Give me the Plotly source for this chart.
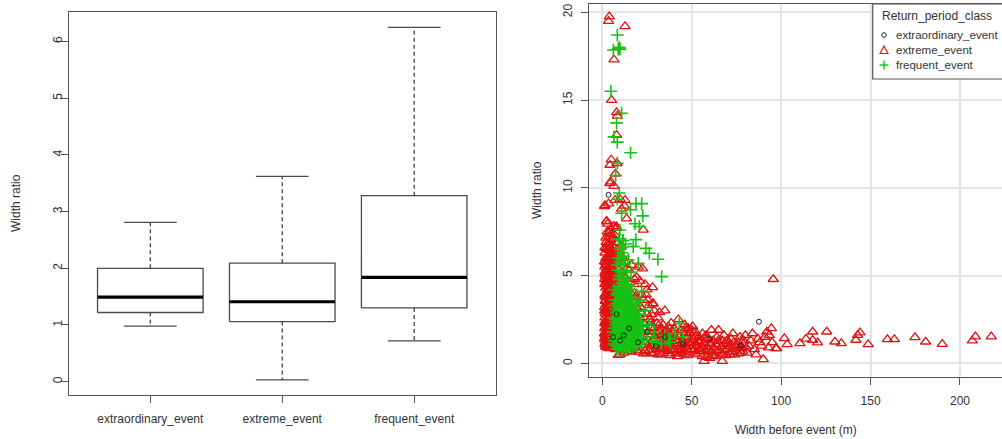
import plotly.graph_objects as go

# ---------------- Box plot summary (left panel) ----------------
categories = ["extraordinary_event", "extreme_event", "frequent_event"]
box_lower = [0.98, 0.03, 0.72]
box_q1 = [1.22, 1.06, 1.30]
box_median = [1.49, 1.41, 1.84]
box_q3 = [2.00, 2.09, 3.28]
box_upper = [2.81, 3.62, 6.25]
box_ticks = [0, 1, 2, 3, 4, 5, 6]

# ---------------- Scatter data (right panel) ----------------
extreme_width = [
    3.9, 3.5, 12.7, 6.5, 5.2, 8.0, 8.4, 8.0, 8.2, 5.0,
    4.3, 7.3, 4.7, 6.5, 1.3, 3.5, 9.9, 12.7, 2.4, 3.0,
    7.8, 13.6, 22.9, 28.1, 95.6, 12.3, 10.8, 2.5, 4.3, 1.5,
    7.1, 6.2, 8.0, 3.4, 6.2, 3.4, 20.1, 19.2, 1.5, 2.2,
    3.0, 4.2, 5.0, 2.0, 1.2, 3.3, 4.6, 6.0, 7.2, 8.5,
    10.5, 11.5, 13.0, 15.0, 16.5, 12.3, 17.8, 22.5, 21.0, 24.0,
    14.0, 18.5,
    1.5, 2.3, 3.1, 3.8, 4.6, 2.0, 2.8, 3.5, 4.2, 5.3,
    1.6, 2.4, 3.2, 3.9, 4.7, 1.9, 2.7, 3.6, 4.4, 5.5,
    1.4, 2.2, 3.0, 3.7, 4.5, 1.8, 2.6, 3.4, 4.1, 5.2,
    1.5, 2.3, 3.1, 3.9, 4.8, 1.7, 2.9, 3.5, 4.3, 5.6,
    1.3, 2.1, 2.8, 3.6, 4.4, 1.9, 3.2, 4.0, 5.1, 6.0,
    1.6, 2.4, 3.3, 4.1, 4.9, 2.0, 2.9, 3.7, 5.4, 6.3,
    1.4, 2.2, 3.0, 3.8, 4.6, 1.9, 2.7, 3.5, 5.0, 6.1,
    1.5, 2.5, 3.3, 4.2, 5.2, 2.0, 2.9, 4.7, 5.8, 6.6,
    2.5, 3.3, 4.0, 1.8, 4.9, 5.9, 6.5, 7.0, 7.5, 1.2,
    6.8, 7.5, 8.3, 9.2, 10.1, 7.0, 8.8, 9.6, 11.0, 12.0,
    16.0, 18.0, 20.0, 22.0, 24.0, 26.0, 28.0, 30.0, 19.0, 21.0,
    23.0, 25.0, 27.0, 29.0, 31.0, 17.0, 20.0, 23.0, 26.0, 29.0,
    32.0, 34.0, 35.0, 33.0, 36.0, 22.0, 25.0, 18.0, 15.0, 14.0,
    24.0, 27.0, 19.0, 23.0, 30.0, 12.0, 10.0, 15.0, 8.9, 11.0,
    31.0, 33.0, 35.0, 37.0, 39.0, 41.0, 43.0, 45.0, 47.0, 49.0,
    32.0, 34.0, 36.0, 38.0, 40.0, 42.0, 44.0, 46.0, 48.0, 50.0,
    51.0, 53.0, 55.0, 57.0, 59.0, 52.0, 54.0, 56.0, 58.0, 60.0,
    30.0, 38.0, 40.0, 44.0, 46.0, 48.0, 50.0, 37.0, 42.0, 52.0,
    55.0, 57.0, 53.0, 49.0, 45.0, 41.0, 39.0, 35.0, 33.0, 47.0,
    61.0, 62.0, 58.0, 56.0, 54.0, 43.0, 34.0, 36.0, 44.0, 51.0,
    62.0, 64.0, 66.0, 68.0, 70.0, 72.0, 74.0, 76.0, 78.0, 80.0,
    63.0, 65.0, 67.0, 69.0, 71.0, 73.0, 75.0, 77.0, 79.0, 81.0,
    83.0, 85.0, 87.0, 89.0, 91.0, 93.0, 95.0, 97.0, 92.0, 90.0,
    56.9, 67.1, 84.0, 82.0, 86.0, 94.5, 93.4, 97.5, 88.0, 60.0,
    70.0, 73.0, 76.0, 79.0, 68.0, 64.0, 61.0, 59.0, 71.0, 65.0,
    24.8, 21.5, 26.5, 28.5, 17.5, 13.5, 38.5, 42.5, 46.5, 50.5,
    101.8, 103.4, 110.5, 113.9, 117.6, 117.6, 120.4, 125.5, 130.1, 133.6,
    141.8, 142.8, 144.1, 148.7, 159.4, 163.3, 174.8, 180.8, 190.1, 206.9,
    208.6, 217.5,
    1.8, 2.6, 3.4, 4.2, 5.0, 5.8, 2.1, 2.9, 3.7, 4.5,
    5.3, 6.1, 1.7, 2.5, 3.3, 4.0, 4.8, 5.7, 2.0, 2.8,
    3.6, 4.4, 5.2, 6.0, 1.6, 2.4, 3.2, 4.0, 4.9, 5.8,
    2.2, 3.0, 3.8, 4.7, 5.5, 6.4, 1.7, 2.6, 3.4, 4.3,
    5.1, 6.0, 2.0, 2.8, 3.6, 4.4, 5.3, 6.3, 1.6, 2.4,
    3.2, 4.0, 4.8, 5.6, 1.9, 2.7, 3.5, 4.3, 5.1, 6.0,
    1.5, 2.3, 3.1, 3.9, 4.7, 5.5, 2.0, 2.8, 3.6, 4.4,
    5.2, 6.4, 1.4, 1.3, 1.5, 1.3, 1.4, 1.2,
    20.5, 22.5, 24.5, 26.5, 28.5, 30.5, 32.5, 34.5, 36.5, 38.5,
    40.5, 42.5, 44.5, 46.5, 48.5, 50.5, 52.5, 54.5, 56.5, 58.5,
    21.5, 23.5, 25.5, 27.5, 29.5, 31.5, 33.5, 35.5, 37.5, 39.5,
    41.5, 43.5, 45.5, 47.5, 49.5, 51.5, 53.5, 55.5, 57.5, 59.5,
    60.5, 62.5, 64.5, 66.5, 68.5, 70.5, 72.5, 74.5, 76.5, 78.5,
    61.5, 63.5, 65.5, 67.5, 69.5, 71.5, 73.5, 75.5, 77.5, 80.5,
    14.5, 16.5, 18.5, 13.0, 11.5, 9.5, 7.5, 8.5, 10.5, 12.5,
    26.5, 28.5, 30.5, 32.5, 34.5, 36.5, 38.5, 40.5, 42.5, 44.5,
    13.0, 15.5, 17.0, 19.5, 21.5, 23.5, 25.5, 27.5, 16.0, 18.0,
    12.5, 14.0, 11.0, 9.5, 8.0, 7.0, 24.5, 26.5, 30.5, 28.0,
]
extreme_ratio = [
    19.75, 19.5, 19.2, 17.3, 15.0, 14.3, 14.1, 13.0, 11.4, 11.6,
    11.3, 10.8, 10.35, 10.1, 8.95, 9.1, 9.35, 9.3, 8.1, 7.95,
    7.8, 8.25, 7.6, 4.33, 4.79, 8.97, 8.8, 8.07, 10.26, 9.0,
    9.3, 7.8, 7.7, 7.4, 7.1, 6.8, 5.5, 4.9, 6.6, 6.9,
    6.5, 6.6, 6.3, 6.0, 5.8, 5.9, 5.7, 5.9, 6.2, 6.5,
    6.7, 6.0, 5.8, 5.3, 5.6, 5.0, 4.5, 5.4, 4.7, 4.5,
    4.3, 3.8,
    1.1, 1.0, 1.2, 1.05, 1.15, 1.3, 1.25, 1.35, 1.3, 1.1,
    1.5, 1.6, 1.45, 1.7, 1.55, 1.8, 1.75, 1.85, 1.65, 1.5,
    2.0, 2.1, 1.95, 2.3, 2.15, 2.4, 2.35, 2.2, 2.45, 2.0,
    2.6, 2.75, 2.55, 2.9, 2.7, 3.0, 2.95, 2.65, 3.05, 2.6,
    3.2, 3.35, 3.15, 3.5, 3.3, 3.6, 3.45, 3.65, 3.25, 3.4,
    3.8, 4.0, 3.9, 4.2, 3.85, 4.3, 4.15, 4.35, 4.05, 3.95,
    4.5, 4.7, 4.55, 4.9, 4.65, 5.0, 4.85, 5.05, 4.45, 4.75,
    5.2, 5.4, 5.3, 5.55, 5.15, 5.6, 5.65, 5.35, 5.5, 5.25,
    0.9, 0.95, 0.85, 1.2, 1.4, 1.2, 1.0, 1.3, 0.8, 1.4,
    4.4, 5.0, 4.6, 5.3, 4.8, 5.8, 6.0, 4.2, 5.2, 4.6,
    1.0, 1.3, 0.9, 1.5, 1.2, 1.8, 1.0, 1.4, 2.2, 2.6,
    2.0, 2.8, 2.3, 2.0, 2.6, 3.0, 3.4, 3.6, 3.3, 3.0,
    2.9, 2.2, 3.0, 1.6, 1.9, 3.9, 4.2, 4.0, 3.5, 2.8,
    0.7, 0.6, 0.75, 0.55, 0.8, 0.6, 0.5, 0.7, 0.47, 0.85,
    0.5, 0.9, 1.2, 0.7, 1.5, 1.0, 0.6, 1.3, 0.9, 1.7,
    1.8, 0.6, 1.0, 1.3, 0.8, 1.6, 1.1, 0.5, 1.2, 0.8,
    1.4, 1.0, 0.7, 1.2, 0.9, 1.8, 1.5, 0.4, 1.6, 1.1,
    1.1, 0.45, 2.0, 1.9, 2.2, 2.0, 1.9, 2.1, 0.4, 0.6,
    1.3, 0.8, 0.5, 1.0, 0.8, 1.3, 0.9, 0.8, 1.4, 1.5,
    0.7, 1.3, 0.35, 1.7, 1.2, 1.5, 1.7, 1.5, 0.7, 1.0,
    0.9, 1.5, 0.6, 1.1, 0.8, 1.4, 0.5, 1.2, 0.9, 1.6,
    0.4, 1.9, 1.3, 0.45, 1.0, 1.7, 0.7, 1.5, 1.1, 0.6,
    1.3, 0.8, 1.4, 1.0, 1.5, 0.9, 1.2, 0.85, 1.8, 0.23,
    0.13, 0.13, 1.7, 1.0, 0.5, 1.99, 1.61, 0.85, 1.2, 0.3,
    1.3, 0.9, 0.55, 1.3, 1.6, 0.7, 1.9, 1.4, 0.65, 1.1,
    0.57, 2.9, 2.5, 3.4, 2.6, 3.2, 2.3, 2.5, 2.0, 2.1,
    1.42, 1.08, 1.14, 1.40, 1.80, 1.33, 1.18, 1.80, 1.23, 1.14,
    1.33, 1.61, 1.75, 1.08, 1.37, 1.37, 1.48, 1.23, 1.10, 1.29,
    1.52, 1.52,
    0.95, 1.15, 0.9, 1.2, 0.95, 1.05, 1.45, 1.35, 1.55, 1.4,
    1.6, 1.35, 1.65, 1.9, 1.7, 1.95, 1.8, 1.75, 2.25, 2.1,
    2.4, 2.25, 2.5, 2.2, 2.85, 2.5, 2.85, 2.65, 3.0, 2.85,
    3.1, 3.4, 3.2, 3.55, 3.3, 3.15, 3.55, 3.75, 4.1, 3.8,
    4.2, 3.7, 4.6, 4.4, 4.7, 4.5, 4.9, 4.35, 5.1, 5.3,
    5.0, 5.2, 5.45, 4.95, 5.75, 6.05, 5.8, 6.2, 5.9, 6.4,
    6.3, 6.55, 6.8, 6.45, 7.0, 6.7, 7.15, 7.5, 7.2, 7.6,
    7.35, 7.8, 2.3, 3.0, 3.9, 4.8, 5.5, 1.7,
    0.65, 1.05, 1.45, 0.75, 1.25, 1.65, 0.85, 1.35, 0.55, 1.05,
    1.55, 0.75, 1.25, 1.75, 0.65, 1.15, 1.55, 0.85, 1.1, 0.65,
    1.85, 2.25, 1.65, 2.05, 1.55, 2.15, 1.95, 1.75, 1.6, 1.85,
    0.55, 0.95, 1.05, 0.45, 1.35, 0.75, 1.25, 0.95, 1.45, 0.75,
    1.15, 0.55, 1.25, 0.95, 0.75, 1.15, 0.65, 0.95, 0.85, 0.7,
    0.45, 1.05, 0.75, 0.5, 1.25, 0.5, 1.2, 1.05, 0.6, 0.9,
    1.05, 0.65, 1.6, 1.7, 1.1, 0.9, 1.55, 2.3, 2.7, 3.1,
    1.15, 0.55, 0.95, 0.5, 1.0, 1.25, 0.75, 1.1, 1.25, 0.55,
    3.9, 4.6, 3.6, 3.1, 3.2, 2.6, 3.6, 2.8, 4.0, 4.8,
    4.9, 5.4, 5.7, 6.2, 6.9, 7.3, 3.9, 2.5, 2.3, 3.4,
]

frequent_width = [
    8.4, 6.2, 8.9, 9.9, 9.5, 4.8, 10.8, 8.0, 6.5, 8.4,
    15.8, 8.4, 7.5, 9.5, 8.4, 18.8, 22.0, 22.6, 15.8, 18.3,
    20.7, 18.8, 17.3, 24.4, 26.3, 31.1, 33.2, 20.1, 11.4, 12.1,
    22.0, 43.1, 40.6, 10.8, 9.9, 11.7, 10.0, 13.0, 14.5, 16.0,
    6.5, 8.0, 9.5, 11.0, 12.5, 14.0, 15.5, 17.0, 18.5, 20.0,
    7.0, 8.5, 10.0, 11.5, 13.0, 14.5, 16.0, 17.5, 19.0, 21.0,
    6.8, 8.3, 9.8, 11.3, 12.8, 14.3, 15.8, 17.3, 18.8, 20.5,
    7.2, 8.7, 10.2, 11.7, 13.2, 14.7, 16.2, 17.7, 19.2, 7.8,
    7.5, 9.0, 10.5, 12.0, 13.5, 15.0, 16.5, 18.0, 9.5, 11.5,
    8.0, 10.0, 12.5, 14.0, 8.8, 11.0, 13.0, 15.5, 9.5, 12.0,
    7.0, 9.0, 10.5, 12.0, 13.5, 15.0, 16.5, 18.0, 19.5, 22.0,
    7.5, 9.2, 10.8, 12.3, 13.8, 15.3, 16.8, 18.3, 20.0, 21.5,
    8.0, 11.0, 14.0, 17.0, 6.0, 6.2, 6.6, 7.2, 25.0, 28.0,
    10.0, 11.0, 9.0, 12.5, 8.5, 13.5, 14.8, 16.5, 19.0, 20.5,
    8.8, 10.3, 11.8, 13.3, 14.8, 16.3, 17.8, 19.3, 21.0, 23.0,
    30.0, 35.0, 26.0, 24.0, 33.0, 37.0, 29.0, 38.0, 45.0, 6.5,
    6.8, 7.8, 8.8, 9.8, 10.8, 11.8, 12.8, 13.8, 14.8, 15.8,
    16.8, 17.8, 18.8, 19.8, 7.3, 8.3, 9.3, 10.3, 11.3, 12.3,
    13.3, 14.3, 15.3, 16.3, 17.3, 18.3, 19.3, 8.1, 9.1, 10.1,
    11.1, 12.1, 13.1, 14.1, 15.1, 16.1, 17.1, 8.6, 9.6, 10.6,
    11.6, 12.6, 13.6, 9.2, 10.4, 11.8, 8.2, 9.8, 10.7, 9.3,
    7.6, 9.1, 10.6, 13.1, 15.6, 17.6, 19.6, 21.2, 22.5, 20.8,
]
frequent_ratio = [
    18.7, 17.85, 17.9, 17.9, 18.0, 15.5, 14.25, 13.7, 12.9, 12.6,
    12.0, 11.4, 10.7, 9.7, 9.35, 9.1, 9.1, 8.4, 8.75, 7.95,
    7.8, 7.05, 6.65, 6.55, 6.27, 5.93, 4.94, 5.7, 7.0, 6.1,
    4.1, 2.28, 1.7, 8.55, 7.6, 7.0, 6.5, 6.8, 5.9, 5.2,
    1.1, 1.3, 1.0, 1.2, 1.05, 1.3, 1.1, 1.25, 1.0, 1.2,
    1.6, 1.5, 1.7, 1.55, 1.75, 1.5, 1.65, 1.5, 1.7, 1.45,
    2.0, 2.2, 1.95, 2.1, 2.3, 2.0, 2.2, 1.95, 2.15, 1.9,
    2.5, 2.7, 2.45, 2.6, 2.8, 2.5, 2.65, 2.4, 2.6, 2.9,
    3.1, 3.3, 3.05, 3.2, 3.4, 3.1, 3.25, 3.0, 3.6, 3.7,
    3.9, 4.1, 3.9, 3.7, 4.4, 4.6, 4.3, 3.8, 5.0, 5.3,
    1.3, 1.15, 1.4, 0.9, 1.5, 0.95, 1.4, 1.35, 1.45, 1.1,
    2.2, 2.4, 2.25, 1.85, 2.1, 2.4, 2.05, 2.5, 2.3, 1.7,
    0.8, 0.75, 0.85, 0.9, 1.8, 2.6, 3.3, 3.6, 1.5, 1.3,
    5.6, 6.3, 6.0, 5.7, 5.3, 4.8, 4.4, 4.2, 3.4, 2.8,
    1.9, 2.05, 1.35, 1.2, 1.85, 1.3, 1.8, 1.15, 2.4, 1.9,
    1.2, 1.6, 2.2, 3.0, 1.1, 1.4, 1.8, 1.2, 1.5, 4.2,
    1.45, 1.75, 1.25, 1.55, 1.85, 1.6, 1.4, 1.65, 1.25, 1.5,
    1.75, 1.55, 1.3, 1.6, 2.35, 2.55, 2.1, 2.85, 2.4, 2.65,
    2.2, 2.75, 2.9, 2.45, 2.7, 2.2, 2.0, 3.4, 3.0, 3.5,
    2.95, 3.55, 3.0, 3.3, 3.6, 3.0, 3.45, 4.0, 4.3, 3.8,
    4.2, 4.5, 4.1, 4.8, 5.2, 4.9, 5.6, 5.8, 6.6, 7.1,
    1.0, 0.95, 1.05, 0.85, 1.0, 1.05, 0.95, 1.3, 2.1, 3.6,
]

extraordinary_width = [3.5, 87.6, 77.4, 6.0, 10.0, 15.0, 20.0, 25.0, 35.0, 45.0, 60.0, 8.0, 12.0, 30.0]
extraordinary_ratio = [9.6, 2.37, 1.0, 1.5, 1.3, 2.0, 1.2, 1.8, 1.5, 1.1, 1.4, 2.8, 1.6, 0.98]

scatter_xticks = [0, 50, 100, 150, 200]
scatter_yticks = [0, 5, 10, 15, 20]

legend_title = "Return_period_class"
legend_labels = ["extraordinary_event", "extreme_event", "frequent_event"]

# ---------------- Figure ----------------
W, H = 1002, 439
FONT = "Liberation Sans, Arial, sans-serif"
TXT = "#333333"
FRAME = "#555555"
RED = "#e31212"
GREEN = "#14c214"
BLACK = "#222222"


def px(x):
    return x / W


def py(y):
    return 1 - y / H


fig = go.Figure()

box_w = 0.4
cap_w = 0.2
for i, name in enumerate(categories):
    fig.add_trace(go.Scatter(
        x=[i - box_w, i + box_w, i + box_w, i - box_w, i - box_w],
        y=[box_q1[i], box_q1[i], box_q3[i], box_q3[i], box_q1[i]],
        mode="lines", line=dict(color="#4a4a4a", width=1.3),
        xaxis="x", yaxis="y", showlegend=False, hoverinfo="skip"))
    fig.add_trace(go.Scatter(
        x=[i - box_w, i + box_w], y=[box_median[i], box_median[i]],
        mode="lines", line=dict(color="black", width=3.2),
        xaxis="x", yaxis="y", showlegend=False, hoverinfo="skip"))
    fig.add_trace(go.Scatter(
        x=[i, i, None, i, i],
        y=[box_q3[i], box_upper[i], None, box_q1[i], box_lower[i]],
        mode="lines", line=dict(color="#333333", width=1.2, dash="4px,3px"),
        xaxis="x", yaxis="y", showlegend=False, hoverinfo="skip"))
    fig.add_trace(go.Scatter(
        x=[i - cap_w, i + cap_w, None, i - cap_w, i + cap_w],
        y=[box_upper[i], box_upper[i], None, box_lower[i], box_lower[i]],
        mode="lines", line=dict(color="#4a4a4a", width=1.3),
        xaxis="x", yaxis="y", showlegend=False, hoverinfo="skip"))

fig.add_trace(go.Scatter(
    x=extreme_width, y=extreme_ratio, mode="markers",
    name="extreme_event", xaxis="x2", yaxis="y2", showlegend=False,
    marker=dict(symbol="triangle-up-open", size=9, color=RED, line=dict(width=1.3))))
fig.add_trace(go.Scatter(
    x=frequent_width, y=frequent_ratio, mode="markers",
    name="frequent_event", xaxis="x2", yaxis="y2", showlegend=False,
    marker=dict(symbol="cross-thin-open", size=9, color=GREEN, line=dict(width=1.6))))
fig.add_trace(go.Scatter(
    x=extraordinary_width, y=extraordinary_ratio, mode="markers",
    name="extraordinary_event", xaxis="x2", yaxis="y2", showlegend=False,
    marker=dict(symbol="circle-open", size=5, color=BLACK, line=dict(width=1))))

# ----- legend drawn as a box with text (R-style legend) -----
shapes = []
annotations = []
leg_left, leg_top, leg_bottom = 872.7, 4, 79
shapes.append(dict(type="rect", xref="paper", yref="paper",
                   x0=px(leg_left), x1=px(W + 10), y0=py(leg_bottom), y1=py(leg_top),
                   line=dict(color=FRAME, width=1.2), fillcolor="white", layer="above"))
annotations.append(dict(text=legend_title, xref="paper", yref="paper", x=px(880), y=py(15.5),
                        xanchor="left", yanchor="middle", showarrow=False,
                        font=dict(family=FONT, size=12, color=TXT)))
item_y = [35, 50, 65]
sym_x = 884
for lbl, yy in zip(legend_labels, item_y):
    annotations.append(dict(text=lbl, xref="paper", yref="paper", x=px(894), y=py(yy),
                            xanchor="left", yanchor="middle", showarrow=False,
                            font=dict(family=FONT, size=11.5, color=TXT)))
shapes.append(dict(type="circle", xref="paper", yref="paper",
                   x0=px(sym_x - 2.3), x1=px(sym_x + 2.3), y0=py(item_y[0] + 2.3), y1=py(item_y[0] - 2.3),
                   line=dict(color=BLACK, width=1), layer="above"))
ty = item_y[1]
shapes.append(dict(type="path", xref="paper", yref="paper",
                   path=f"M {px(sym_x - 4)} {py(ty + 3.5)} L {px(sym_x + 4)} {py(ty + 3.5)} L {px(sym_x)} {py(ty - 4)} Z",
                   line=dict(color=RED, width=1.1), layer="above"))
gy = item_y[2]
shapes.append(dict(type="line", xref="paper", yref="paper",
                   x0=px(sym_x - 4.5), x1=px(sym_x + 4.5), y0=py(gy), y1=py(gy),
                   line=dict(color=GREEN, width=1.4), layer="above"))
shapes.append(dict(type="line", xref="paper", yref="paper",
                   x0=px(sym_x), x1=px(sym_x), y0=py(gy - 4.5), y1=py(gy + 4.5),
                   line=dict(color=GREEN, width=1.4), layer="above"))

# left panel y-axis title (R places it at a fixed line from the frame)
annotations.append(dict(text="Width ratio", xref="paper", yref="paper", x=px(15.5), y=py(203.5),
                        xanchor="center", yanchor="middle", textangle=-90, showarrow=False,
                        font=dict(family=FONT, size=12, color=TXT)))

axis_common = dict(showline=True, linecolor=FRAME, linewidth=1, ticks="outside",
                   ticklen=7, tickcolor=FRAME, zeroline=False, automargin=False,
                   tickfont=dict(family=FONT, size=12, color=TXT))
title_font = dict(family=FONT, size=12, color=TXT)

fig.update_layout(
    width=W, height=H,
    margin=dict(l=0, r=0, t=0, b=0, autoexpand=False),
    paper_bgcolor="white", plot_bgcolor="white",
    font=dict(family=FONT, size=12, color=TXT),
    showlegend=False,
    shapes=shapes, annotations=annotations,
    xaxis=dict(domain=[px(68.5), px(496)], range=[-0.62, 2.62], mirror=True,
               tickvals=[0, 1, 2], ticktext=categories, showgrid=False,
               anchor="y", ticklabelstandoff=6, **axis_common),
    yaxis=dict(domain=[py(395), py(12)], range=[-0.235, 6.52], mirror=True,
               tickvals=box_ticks, tickangle=-90, showgrid=False, anchor="x",
               ticklabelstandoff=-6, **axis_common),
    xaxis2=dict(domain=[px(589.3), 1.0], range=[-7.27, 223.5], mirror=True,
                tickvals=scatter_xticks, showgrid=True, gridcolor="#e4e4e4", gridwidth=1.5,
                anchor="y2", ticklabelstandoff=6,
                title=dict(text="Width before event (m)", font=title_font, standoff=18),
                **axis_common),
    yaxis2=dict(domain=[py(376.7), py(4)], range=[-0.76, 20.47], mirror=False,
                tickvals=scatter_yticks, tickangle=-90, showgrid=True, gridcolor="#e4e4e4",
                gridwidth=1.5, anchor="x2", ticklabelstandoff=5,
                title=dict(text="Width ratio", font=title_font, standoff=16),
                **axis_common),
)

fig.write_html("out.html", config={"displayModeBar": False},
               post_script="document.body.style.margin='0';document.body.style.overflow='hidden';")
